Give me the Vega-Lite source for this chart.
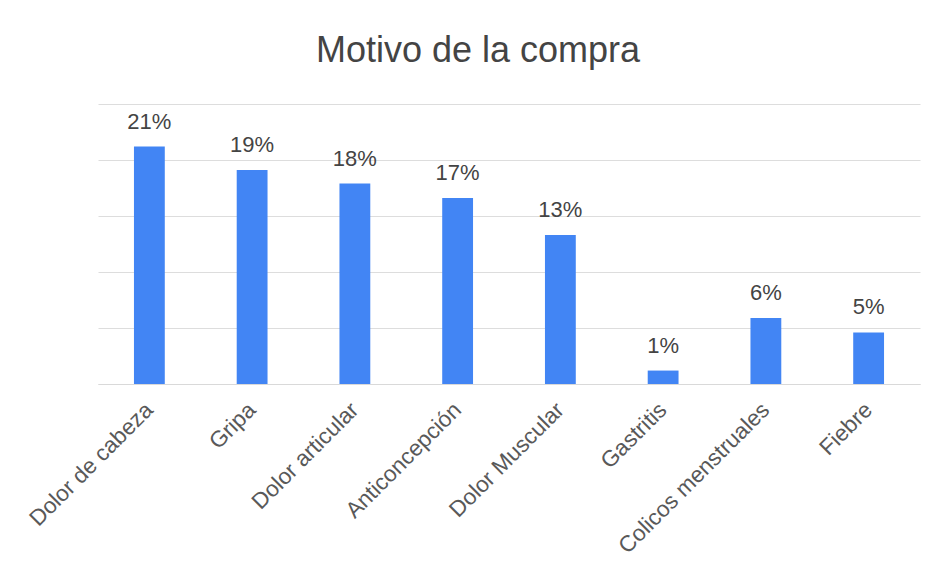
{
  "$schema": "https://vega.github.io/schema/vega-lite/v6.json",
  "width": 822,
  "height": 280,
  "autosize": {"type": "none"},
  "padding": {"left": 98, "top": 104, "right": 15, "bottom": 187},
  "background": "white",
  "title": {
    "text": "Motivo de la compra",
    "font": "Liberation Sans",
    "fontSize": 36,
    "fontWeight": "normal",
    "color": "#444444",
    "anchor": "middle",
    "dx": -31,
    "offset": 34
  },
  "data": {
    "values": [
      {"motivo": "Dolor de cabeza", "valor": 0.212},
      {"motivo": "Gripa", "valor": 0.191},
      {"motivo": "Dolor articular", "valor": 0.179},
      {"motivo": "Anticoncepción", "valor": 0.166},
      {"motivo": "Dolor Muscular", "valor": 0.133},
      {"motivo": "Gastritis", "valor": 0.012},
      {"motivo": "Colicos menstruales", "valor": 0.059},
      {"motivo": "Fiebre", "valor": 0.046}
    ]
  },
  "encoding": {
    "x": {
      "field": "motivo",
      "type": "nominal",
      "sort": null,
      "scale": {"paddingInner": 0.7, "paddingOuter": 0.35},
      "axis": {
        "title": null,
        "labelAngle": -45,
        "labelAlign": "right",
        "labelBaseline": "middle",
        "labelFont": "Liberation Sans",
        "labelFontSize": 22.5,
        "labelColor": "#595959",
        "labelPadding": 22,
        "labelOverlap": false,
        "labelLimit": 400,
        "ticks": false,
        "domain": true,
        "domainColor": "#d9d9d9"
      }
    },
    "y": {
      "field": "valor",
      "type": "quantitative",
      "scale": {"domain": [0, 0.25]},
      "axis": {
        "title": null,
        "labels": false,
        "ticks": false,
        "domain": false,
        "values": [0, 0.05, 0.1, 0.15, 0.2, 0.25],
        "gridColor": "#dddddd"
      }
    }
  },
  "layer": [
    {"mark": {"type": "bar", "color": "#4285F4"}},
    {
      "mark": {
        "type": "text",
        "baseline": "alphabetic",
        "dy": -18,
        "font": "Liberation Sans",
        "fontSize": 22,
        "color": "#444444"
      },
      "encoding": {
        "text": {"field": "valor", "type": "quantitative", "format": ".0%"}
      }
    }
  ],
  "config": {"view": {"stroke": null}}
}
